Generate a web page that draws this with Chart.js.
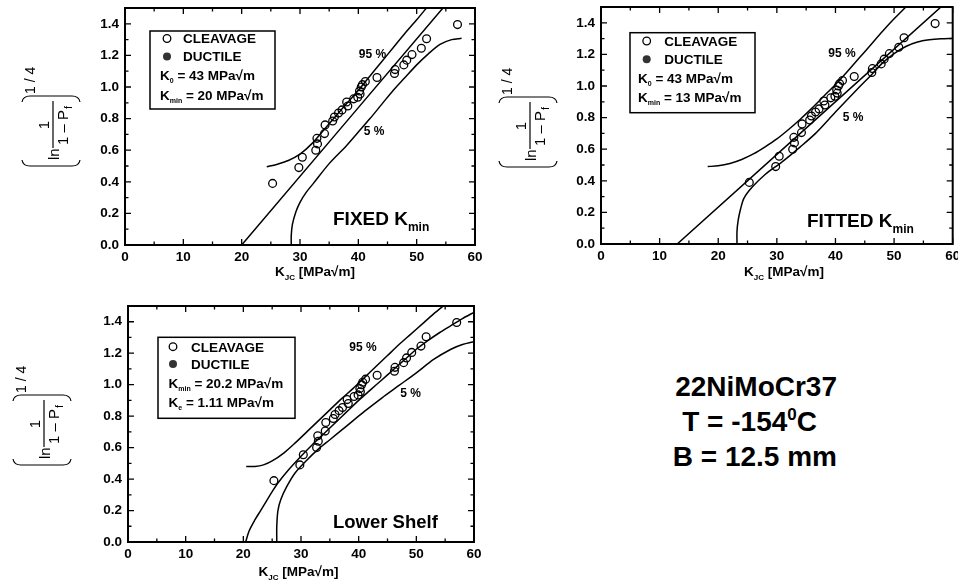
<!DOCTYPE html>
<html>
<head>
<meta charset="utf-8">
<script src="https://cdn.jsdelivr.net/npm/chart.js@4.4.0/dist/chart.umd.min.js"></script>
<style>
    body { margin: 0; background: #fff; width: 958px; height: 581px; position: relative; overflow: hidden;
           font-family: "Liberation Sans", Arial, sans-serif; }
    canvas { position: absolute; }
    .info { position: absolute; font-weight: bold; font-size: 28px; line-height: 28px; color: #000; white-space: nowrap; }
    .info span { font-size: 17px; position: relative; top: -11px; }
</style>
</head>
<body>
<canvas id="fixed" width="490" height="290" style="left:0;top:0"></canvas>
<canvas id="fitted" width="488" height="290" style="left:470px;top:0"></canvas>
<canvas id="shelf" width="490" height="291" style="left:0;top:290px"></canvas>
<div class="info" style="right:121px;top:373px">22NiMoCr37</div>
<div class="info" style="right:141px;top:408px">T = -154<span>0</span>C</div>
<div class="info" style="right:121px;top:443px">B = 12.5 mm</div>
<script>
const FONT = '"Liberation Sans", Arial, sans-serif';

// axis ticks
const xTickLabels = ["0", "10", "20", "30", "40", "50", "60"];
const yTickLabels = ["0.0", "0.2", "0.4", "0.6", "0.8", "1.0", "1.2", "1.4"];

// measured toughness values (same in every panel)
const cleavageK = [25.3, 29.8, 30.4, 32.7, 33.0, 32.9, 34.2, 34.3, 35.6, 35.9, 36.6, 37.2, 38.2, 38.0, 39.2,
                   39.9, 40.3, 40.2, 40.5, 40.7, 41.2, 43.2, 46.2, 46.3, 47.8, 48.3, 49.2, 50.8, 51.7, 57.0];
const cleavageY = [0.39, 0.49, 0.555, 0.60, 0.64, 0.675, 0.705, 0.76, 0.785, 0.81, 0.835, 0.855, 0.88, 0.905, 0.925,
                   0.935, 0.955, 0.975, 1.0, 1.015, 1.035, 1.06, 1.085, 1.11, 1.14, 1.17, 1.205, 1.245, 1.305, 1.395];
const ductileK = [];
const ductileY = [];

// fixed Kmin
const fixedMidK = [20, 56];
const fixedMidY = [0, 1.565];
const fixedUpK = [24.3, 26, 28, 30, 32, 34, 36, 38, 40, 42, 44, 46, 48, 50, 52];
const fixedUpY = [0.495, 0.51, 0.535, 0.575, 0.64, 0.725, 0.81, 0.895, 0.98, 1.07, 1.16, 1.25, 1.34, 1.425, 1.515];
const fixedLoK = [28.5, 28.5, 28.7, 29.3, 30, 31, 32.3, 35, 38, 40, 42, 44, 46, 48, 50, 52, 54, 56, 57.7];
const fixedLoY = [0, 0.06, 0.13, 0.21, 0.27, 0.33, 0.39, 0.515, 0.63, 0.715, 0.8, 0.89, 0.98, 1.06, 1.14, 1.21, 1.27, 1.3, 1.308];

// fitted Kmin
const fittedMidK = [13, 58.5];
const fittedMidY = [0, 1.517];
const fittedUpK = [18.2, 20, 22, 24, 26, 28, 30, 32, 34, 36, 38, 40, 42, 44, 46, 48, 50, 52, 53.5];
const fittedUpY = [0.49, 0.495, 0.51, 0.535, 0.57, 0.615, 0.665, 0.725, 0.79, 0.86, 0.935, 1.01, 1.09, 1.175, 1.26, 1.345, 1.425, 1.5, 1.56];
const fittedLoK = [23.2, 23.2, 23.4, 23.8, 24.4, 25.8, 28, 30.9, 34, 36.6, 40, 44, 46, 48, 50, 52, 54, 56, 58, 60];
const fittedLoY = [0, 0.08, 0.15, 0.22, 0.29, 0.36, 0.44, 0.52, 0.615, 0.70, 0.835, 0.99, 1.065, 1.145, 1.205, 1.25, 1.278, 1.292, 1.299, 1.302];

// lower shelf
const shelfMidK = [20.4, 21, 22, 23, 24, 25, 26, 28, 30, 32, 34, 36, 38, 40, 42, 44, 46, 48, 50, 52, 54, 56, 58, 60];
const shelfMidY = [0, 0.07, 0.14, 0.2, 0.26, 0.32, 0.375, 0.465, 0.545, 0.62, 0.69, 0.76, 0.83, 0.9, 0.965, 1.03, 1.095, 1.16, 1.225, 1.28, 1.33, 1.375, 1.42, 1.46];
const shelfUpK = [20.5, 22, 23.5, 25, 27, 29, 31, 33, 35, 37, 39, 41, 43, 45, 47, 49, 51, 53, 55];
const shelfUpY = [0.48, 0.48, 0.49, 0.515, 0.565, 0.63, 0.70, 0.77, 0.84, 0.91, 0.975, 1.045, 1.115, 1.185, 1.255, 1.32, 1.385, 1.45, 1.51];
const shelfLoK = [25.8, 25.8, 26, 26.5, 27.5, 29, 31, 33, 35, 38, 41, 44, 47, 50, 53, 56, 58, 60];
const shelfLoY = [0, 0.1, 0.2, 0.27, 0.35, 0.44, 0.52, 0.59, 0.65, 0.74, 0.83, 0.915, 0.995, 1.075, 1.16, 1.225, 1.255, 1.273];

Chart.defaults.font.family = FONT;
Chart.defaults.color = "#000";

function toPts(xs, ys) {
    return xs.map((x, i) => ({ x: x, y: ys[i] }));
}

// draws pieces of text one after the other: [text, size, dy]
function richWidth(ctx, parts) {
    let w = 0;
    parts.forEach(p => { ctx.font = "bold " + p[1] + "px " + FONT; w += ctx.measureText(p[0]).width; });
    return w;
}
function drawRich(ctx, x, y, parts) {
    ctx.textAlign = "left";
    ctx.textBaseline = "alphabetic";
    parts.forEach(p => {
        ctx.font = "bold " + p[1] + "px " + FONT;
        ctx.fillText(p[0], x, y + (p[2] || 0));
        x += ctx.measureText(p[0]).width;
    });
}

function drawYTitle(ctx, cx, cy) {
    ctx.save();
    ctx.translate(cx, cy);
    ctx.rotate(-Math.PI / 2);
    ctx.fillStyle = "#000";
    ctx.strokeStyle = "#000";
    ctx.lineWidth = 1.2;
    const w = 35, h = 29;
    ctx.beginPath();
    ctx.moveTo(-w + 6, -h);
    ctx.quadraticCurveTo(-w, -h + 1, -w, -h + 8);
    ctx.lineTo(-w, h - 8);
    ctx.quadraticCurveTo(-w, h - 1, -w + 6, h);
    ctx.moveTo(w - 6, -h);
    ctx.quadraticCurveTo(w, -h + 1, w, -h + 8);
    ctx.lineTo(w, h - 8);
    ctx.quadraticCurveTo(w, h - 1, w - 6, h);
    ctx.stroke();

    ctx.textBaseline = "alphabetic";
    ctx.font = "15px " + FONT;
    ctx.textAlign = "left";
    ctx.fillText("ln", -29, 8);
    ctx.beginPath();
    ctx.moveTo(-17, 2);
    ctx.lineTo(30, 2);
    ctx.stroke();
    ctx.textAlign = "center";
    ctx.fillText("1", 6, -2);
    ctx.textAlign = "left";
    const den = "1 \u2013 P";
    ctx.fillText(den, -14, 17);
    const dw = ctx.measureText(den).width;
    ctx.font = "11px " + FONT;
    ctx.fillText("f", -14 + dw + 1, 21);
    ctx.font = "14px " + FONT;
    ctx.fillText("1 / 4", 37, -16);
    ctx.restore();
}

function decor(p) {
    return {
        id: "decor",
        afterDraw(chart) {
            const ctx = chart.ctx;
            const a = chart.chartArea;
            const xs = chart.scales.x;
            const ys = chart.scales.y;
            ctx.save();
            ctx.strokeStyle = "#000";
            ctx.fillStyle = "#000";

            // frame
            ctx.lineWidth = 2;
            ctx.strokeRect(a.left, a.top, a.right - a.left, a.bottom - a.top);

            // inward ticks on all four sides
            ctx.lineWidth = 1.3;
            ctx.beginPath();
            for (let i = 0; i <= 12; i++) {
                const px = xs.getPixelForValue(i * 5);
                const len = i % 2 === 0 ? 6 : 3.5;
                ctx.moveTo(px, a.bottom); ctx.lineTo(px, a.bottom - len);
                ctx.moveTo(px, a.top); ctx.lineTo(px, a.top + len);
            }
            for (let i = 0; i <= 15; i++) {
                const py = ys.getPixelForValue(i * 0.1);
                const len = i % 2 === 0 ? 6 : 3.5;
                ctx.moveTo(a.left, py); ctx.lineTo(a.left + len, py);
                ctx.moveTo(a.right, py); ctx.lineTo(a.right - len, py);
            }
            ctx.stroke();

            // legend box
            const b = p.box;
            ctx.lineWidth = 1.5;
            ctx.strokeRect(b[0], b[1], b[2] - b[0], b[3] - b[1]);
            ctx.lineWidth = 1.3;
            ctx.beginPath();
            ctx.arc(p.symX, p.rows[0], 3.8, 0, Math.PI * 2);
            ctx.stroke();
            ctx.fillStyle = "#333";
            ctx.beginPath();
            ctx.arc(p.symX, p.rows[1], 4, 0, Math.PI * 2);
            ctx.fill();
            ctx.fillStyle = "#000";
            drawRich(ctx, p.txtX, p.rows[0] + 4.8, [["CLEAVAGE", 13.5]]);
            drawRich(ctx, p.txtX, p.rows[1] + 4.8, [["DUCTILE", 13.5]]);
            drawRich(ctx, p.kX, p.rows[2] + 4.8, p.line3);
            drawRich(ctx, p.kX, p.rows[3] + 4.8, p.line4);

            // band labels
            ctx.font = "bold 12px " + FONT;
            ctx.textAlign = "center";
            ctx.fillText("95 %", p.up[0], p.up[1] + 4.3);
            ctx.fillText("5 %", p.lo[0], p.lo[1] + 4.3);
            drawRich(ctx, p.tag[0], p.tag[1] + 6.8, p.tagParts);

            // x axis title
            const xt = [["K", 13.5], ["JC", 8, 4], [" [MPa\u221Am]", 13.5]];
            drawRich(ctx, p.xTitle[0] - richWidth(ctx, xt) / 2, p.xTitle[1], xt);

            drawYTitle(ctx, p.yTitle[0], p.yTitle[1]);
            ctx.restore();
        }
    };
}

function makePanel(id, p) {
    const line = (k, y) => ({
        data: toPts(k, y), showLine: true, pointRadius: 0, borderColor: "#000",
        borderWidth: 1.5, tension: 0.3, fill: false
    });
    new Chart(document.getElementById(id), {
        type: "scatter",
        data: {
            datasets: [
                {
                    data: toPts(cleavageK, cleavageY), showLine: false, pointRadius: 3.9,
                    borderColor: "#000", backgroundColor: "rgba(0,0,0,0)", borderWidth: 1.3
                },
                {
                    data: toPts(ductileK, ductileY), showLine: false, pointRadius: 3.9,
                    borderColor: "#333", backgroundColor: "#333"
                },
                line(p.midK, p.midY),
                line(p.upK, p.upY),
                line(p.loK, p.loY)
            ]
        },
        options: {
            responsive: false,
            animation: false,
            events: [],
            layout: { padding: { left: 0, right: p.padR, top: p.padT, bottom: 0 } },
            plugins: { legend: { display: false }, tooltip: { enabled: false } },
            scales: {
                x: {
                    type: "linear", min: 0, max: 60,
                    afterBuildTicks: s => { s.ticks = xTickLabels.map(t => ({ value: parseFloat(t) })); },
                    ticks: {
                        callback: (v, i) => xTickLabels[i],
                        font: { size: 13.5, weight: "bold" }, color: "#000", padding: 4,
                        maxRotation: 0, autoSkip: false
                    },
                    grid: { display: false, drawTicks: false },
                    border: { display: false },
                    afterFit: s => { s.height = p.xAxisH; s.paddingLeft = 0; s.paddingRight = 0; }
                },
                y: {
                    type: "linear", min: 0, max: 1.5,
                    afterBuildTicks: s => { s.ticks = yTickLabels.map(t => ({ value: parseFloat(t) })); },
                    ticks: {
                        callback: (v, i) => yTickLabels[i],
                        font: { size: 13.5, weight: "bold" }, color: "#000", padding: 6,
                        autoSkip: false
                    },
                    grid: { display: false, drawTicks: false },
                    border: { display: false },
                    afterFit: s => { s.width = p.yAxisW; s.paddingTop = 0; s.paddingBottom = 0; }
                }
            }
        },
        plugins: [decor(p)]
    });
}

makePanel("fixed", {
    midK: fixedMidK, midY: fixedMidY, upK: fixedUpK, upY: fixedUpY, loK: fixedLoK, loY: fixedLoY,
    yAxisW: 125, xAxisH: 45, padR: 15, padT: 8,
    box: [150, 31, 275, 109], symX: 167, txtX: 183, kX: 160, rows: [38.5, 56.5, 75, 95],
    line3: [["K", 13.5], ["0", 7, 3], [" = 43 MPa\u221Am", 13.5]],
    line4: [["K", 13.5], ["min", 7, 3], [" = 20 MPa\u221Am", 13.5]],
    up: [372.5, 54], lo: [374, 131],
    tag: [333, 218], tagParts: [["FIXED K", 19], ["min", 12, 6]],
    xTitle: [315, 275.5], yTitle: [51, 131]
});

makePanel("fitted", {
    midK: fittedMidK, midY: fittedMidY, upK: fittedUpK, upY: fittedUpY, loK: fittedLoK, loY: fittedLoY,
    yAxisW: 131, xAxisH: 46, padR: 3, padT: 7,
    box: [160, 32.7, 285, 112.7], symX: 176.7, txtX: 194.3, kX: 168, rows: [41, 59.3, 77.7, 97.3],
    line3: [["K", 13.5], ["0", 7, 3], [" = 43 MPa\u221Am", 13.5]],
    line4: [["K", 13.5], ["min", 7, 3], [" = 13 MPa\u221Am", 13.5]],
    up: [372, 53], lo: [383, 117],
    tag: [337, 220], tagParts: [["FITTED K", 19], ["min", 12, 6]],
    xTitle: [314, 276], yTitle: [58, 132]
});

makePanel("shelf", {
    midK: shelfMidK, midY: shelfMidY, upK: shelfUpK, upY: shelfUpY, loK: shelfLoK, loY: shelfLoY,
    yAxisW: 128, xAxisH: 39, padR: 16, padT: 16,
    box: [158, 47.3, 295, 128.3], symX: 173, txtX: 191, kX: 168.5, rows: [56.7, 74, 93, 112],
    line3: [["K", 13.5], ["min", 7, 3], [" = 20.2 MPa\u221Am", 13.5]],
    line4: [["K", 13.5], ["e", 7, 3], [" = 1.11 MPa\u221Am", 13.5]],
    up: [363, 57], lo: [410.5, 103],
    tag: [333, 231], tagParts: [["Lower Shelf", 18.5]],
    xTitle: [298.5, 285.5], yTitle: [42, 140]
});
</script>
</body>
</html>
